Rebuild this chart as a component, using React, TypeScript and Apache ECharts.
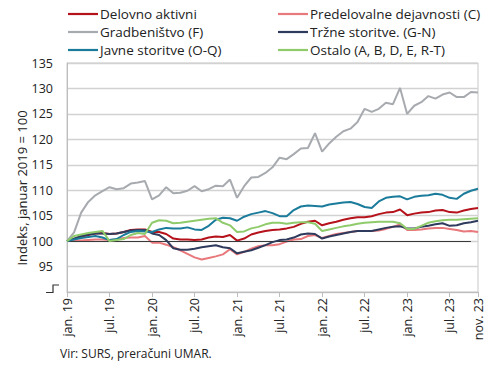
import React, { useEffect, useRef } from "react";
import * as echarts from "echarts";

const monthNames = ["jan.", "feb.", "mar.", "apr.", "maj", "jun.", "jul.", "avg.", "sep.", "okt.", "nov.", "dec."];
const years = ["19", "20", "21", "22", "23"];
const categories: string[] = [];
years.forEach((y) => monthNames.forEach((m) => categories.push(`${m} ${y}`)));
categories.splice(59);

const delovnoAktivni = [100, 100.4, 100.8, 101.2, 101.5, 101.6, 101.4, 101.5, 101.8, 102.2, 102.3, 102.3, 101.8, 101.8, 101.4, 100.5, 100.3, 100.3, 100.2, 100.3, 100.7, 100.9, 100.8, 101.2, 100.1, 100.5, 101.3, 101.7, 102, 102.2, 102.3, 102.5, 102.8, 103.4, 103.8, 104, 103.1, 103.5, 103.8, 104.2, 104.5, 104.7, 104.7, 104.9, 105.3, 105.6, 105.7, 106.2, 105.1, 105.4, 105.6, 105.7, 106, 106.1, 105.7, 105.6, 106, 106.3, 106.5];
const predelovalne = [100, 100, 100.1, 100.2, 100.3, 100.3, 100.2, 100.3, 100.6, 100.7, 100.7, 101, 99.7, 99.7, 99.3, 98.8, 98.2, 97.5, 96.8, 96.4, 96.7, 97, 97.4, 98.4, 97.4, 97.9, 98.5, 99, 99.2, 99.2, 99.4, 99.9, 100.3, 100.4, 101, 101.2, 100.6, 101, 101.4, 101.6, 101.8, 102, 102, 102, 102.1, 102.4, 102.8, 103.3, 102.2, 102.2, 102.3, 102.5, 102.6, 102.6, 102.4, 102.2, 101.9, 102, 101.8];
const gradbenistvo = [100, 101.7, 105.6, 107.7, 109, 109.8, 110.6, 110.2, 110.4, 111.3, 111.5, 111.8, 108.2, 109, 110.6, 109.4, 109.5, 109.9, 110.8, 109.8, 110.2, 110.9, 110.8, 112.1, 108.5, 110.8, 112.5, 112.6, 113.4, 114.5, 116.4, 116.1, 117.1, 118.2, 118.3, 121.2, 117.6, 119.2, 120.5, 121.6, 122.1, 123.4, 126, 125.4, 126, 127.2, 126.9, 130.1, 125, 126.6, 127.3, 128.5, 128, 128.8, 129.2, 128.3, 128.3, 129.3, 129.2];
const trzneStoritve = [100, 100.5, 101, 101.3, 101.5, 101.5, 101.4, 101.5, 101.8, 102.1, 102.2, 102.2, 101.5, 101.2, 100.2, 98.6, 98.3, 98.3, 98.5, 98.8, 99, 99.2, 98.8, 98.6, 97.6, 97.9, 98.2, 98.7, 99.2, 99.8, 100.2, 100.3, 100.7, 101.3, 101.5, 101.4, 100.5, 100.9, 101.2, 101.5, 101.8, 102, 102, 102, 102.3, 102.6, 102.8, 102.9, 102.5, 102.5, 102.8, 103, 103.3, 103.5, 103, 103.1, 103.5, 103.7, 104];
const javneStoritve = [100, 100.3, 100.6, 100.8, 101, 100.7, 100.2, 100.4, 101.2, 101.8, 102, 101.9, 101.8, 102.3, 102.6, 102.5, 102.5, 102.7, 102.3, 102.2, 103, 104.2, 104.6, 104.5, 104, 104.8, 105.3, 105.6, 105.9, 105.5, 104.9, 104.9, 106.1, 106.8, 107, 106.9, 106.8, 107.2, 107.4, 107.6, 107.7, 107.3, 106.7, 106.5, 107.8, 108.5, 108.7, 108.8, 108.2, 108.7, 108.9, 109, 109.3, 109.1, 108.5, 108.3, 109.3, 109.9, 110.3];
const ostalo = [100, 101, 101.3, 101.6, 101.8, 102, 100, 100.2, 100.4, 101.2, 101.6, 101.4, 103.6, 104.1, 104, 103.5, 103.6, 103.8, 104, 104.2, 104.4, 104.5, 103.6, 103.1, 101.8, 101.9, 102.5, 102.8, 103.3, 103.6, 103.6, 103.4, 103.6, 103.7, 103.7, 103.4, 102, 102.3, 102.6, 102.9, 103.1, 103.4, 103.6, 103.7, 103.8, 103.8, 103.8, 103.5, 102.4, 102.4, 103, 103.6, 103.9, 104.1, 104.2, 104.2, 104.3, 104.4, 104.5];

const seriesNames = [
  "Delovno aktivni",
  "Predelovalne dejavnosti (C)",
  "Gradbeništvo (F)",
  "Tržne storitve. (G-N)",
  "Javne storitve (O-Q)",
  "Ostalo (A, B, D, E, R-T)",
];
const seriesColors = ["#B5121B", "#E8787C", "#A7AAAF", "#2F3B5C", "#1A7B9B", "#8FCB6B"];
const seriesData = [delovnoAktivni, predelovalne, gradbenistvo, trzneStoritve, javneStoritve, ostalo];

const yTicks = [90, 95, 100, 105, 110, 115, 120, 125, 130, 135];
const yTitle = "Indeks, januar 2019 = 100";
const sourceNote = "Vir: SURS, preračuni UMAR.";

const FONT = "Open Sans";

export default function App() {
  const ref = useRef<HTMLDivElement>(null);
  useEffect(() => {
    if (!ref.current) return;
    document.body.style.margin = "0";
    const chart = echarts.init(ref.current, undefined, { renderer: "svg" });
    const lastIdx = categories.length - 1;
    const legendCommon = {
      orient: "vertical" as const,
      top: 2,
      itemWidth: 30,
      itemHeight: 14,
      itemGap: 4,
      icon: "path://M0,6L30,6L30,8.2L0,8.2Z",
      symbolKeepAspect: true,
      textStyle: { fontFamily: FONT, fontSize: 13.5, color: "#222", padding: [0, 0, 0, -3] },
      selectedMode: false,
    };
    chart.setOption({
      animation: false,
      backgroundColor: "#fff",
      textStyle: { fontFamily: FONT },
      legend: [
        { ...legendCommon, left: 63, data: [seriesNames[0], seriesNames[2], seriesNames[4]] },
        { ...legendCommon, left: 273, data: [seriesNames[1], seriesNames[3], seriesNames[5]] },
      ],
      grid: {
        left: 67,
        right: 12,
        top: 63,
        bottom: 73,
        show: true,
        borderColor: "#C8C8C8",
        borderWidth: 1,
      },
      xAxis: {
        type: "category",
        data: categories,
        boundaryGap: false,
        axisLine: { show: true, lineStyle: { color: "#BDBDBD", width: 1 } },
        axisTick: {
          show: true,
          length: 5,
          lineStyle: { color: "#BDBDBD" },
          interval: (i: number) => i % 6 === 0 || i === lastIdx,
        },
        axisLabel: {
          rotate: 90,
          margin: 6,
          fontSize: 12.5,
          fontFamily: FONT,
          color: "#222",
          interval: (i: number) => i % 6 === 0 || i === lastIdx,
        },
        splitLine: { show: false },
      },
      yAxis: {
        type: "value",
        min: yTicks[0],
        max: yTicks[yTicks.length - 1],
        interval: 5,
        axisLine: { show: true, lineStyle: { color: "#BDBDBD" } },
        axisTick: { show: false },
        axisLabel: {
          margin: 14,
          fontSize: 12.5,
          fontFamily: FONT,
          color: "#222",
          formatter: (v: number) => (v === yTicks[0] ? "" : String(v)),
        },
        splitLine: { show: true, lineStyle: { color: "#D2D2D2", width: 1.3 } },
      },
      series: [
        {
          name: "base",
          type: "line",
          data: [],
          silent: true,
          z: 1,
          markLine: {
            silent: true,
            symbol: "none",
            label: { show: false },
            lineStyle: { color: "#3A3A3A", width: 1.2, type: "solid" },
            data: [[{ coord: [categories[0], 100] }, { coord: [categories[lastIdx - 1], 100] }]],
          },
        },
        ...seriesNames.map((name, k) => ({
          name,
          type: "line",
          data: seriesData[k],
          symbol: "none",
          z: 2 + k,
          lineStyle: { color: seriesColors[k], width: 2 },
          itemStyle: { color: seriesColors[k] },
        })),
      ],
      graphic: [
        {
          type: "text",
          x: 22,
          y: 188,
          rotation: Math.PI / 2,
          style: {
            text: yTitle,
            fontFamily: FONT,
            fontSize: 13,
            fill: "#222",
            align: "center",
            verticalAlign: "middle",
          },
        },
        {
          type: "polyline",
          shape: { points: [[46, 292.5], [53, 292.5], [53, 285], [59, 285]] },
          style: { stroke: "#333", lineWidth: 1.2, fill: null },
        },
        {
          type: "text",
          x: 60,
          y: 353,
          style: {
            text: sourceNote,
            fontFamily: FONT,
            fontSize: 12,
            fill: "#222",
            verticalAlign: "middle",
          },
        },
      ],
    });
    return () => chart.dispose();
  }, []);
  return <div ref={ref} style={{ width: 490, height: 365 }} />;
}
